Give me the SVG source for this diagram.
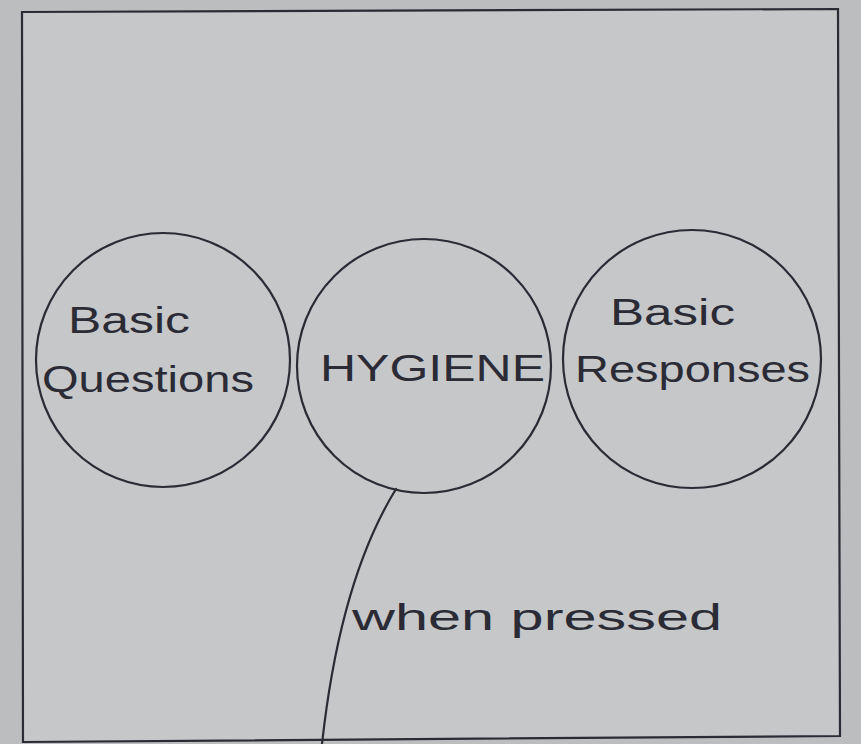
<svg xmlns="http://www.w3.org/2000/svg" width="861" height="744" viewBox="0 0 861 744">
<style>
.ln{fill:none;stroke:#2b2b36;stroke-width:2.2;stroke-linecap:round}
.t{font-family:"Liberation Sans","DejaVu Sans",sans-serif;fill:#2b2b36;font-size:36px}
</style>
<rect x="0" y="0" width="861" height="744" fill="#bcbdbf"/>
<polygon points="22,12 838,9 840,736 23,742" fill="#c6c7c9"/>
<g id="frame"><path class="ln" d="M22,12 L838,9 L840,736 L23,742 Z"/></g>
<g id="basic-questions">
<circle class="ln" cx="163" cy="360" r="127"/>
<text class="t" x="68" y="333" textLength="122" lengthAdjust="spacingAndGlyphs">Basic</text>
<text class="t" x="42" y="392" textLength="212" lengthAdjust="spacingAndGlyphs">Questions</text>
</g>
<g id="hygiene">
<circle class="ln" cx="424" cy="366" r="127"/>
<text class="t" x="320" y="381" textLength="225" lengthAdjust="spacingAndGlyphs">HYGIENE</text>
</g>
<g id="basic-responses">
<circle class="ln" cx="692" cy="359" r="129"/>
<text class="t" x="610" y="325" textLength="125" lengthAdjust="spacingAndGlyphs">Basic</text>
<text class="t" x="575" y="382" textLength="235" lengthAdjust="spacingAndGlyphs">Responses</text>
</g>
<g id="connectors">
<path class="ln" d="M396,489 Q340,580 322,744"/>
<text class="t" x="352" y="630" font-size="40" textLength="370" lengthAdjust="spacingAndGlyphs">when pressed</text>
</g>
</svg>
